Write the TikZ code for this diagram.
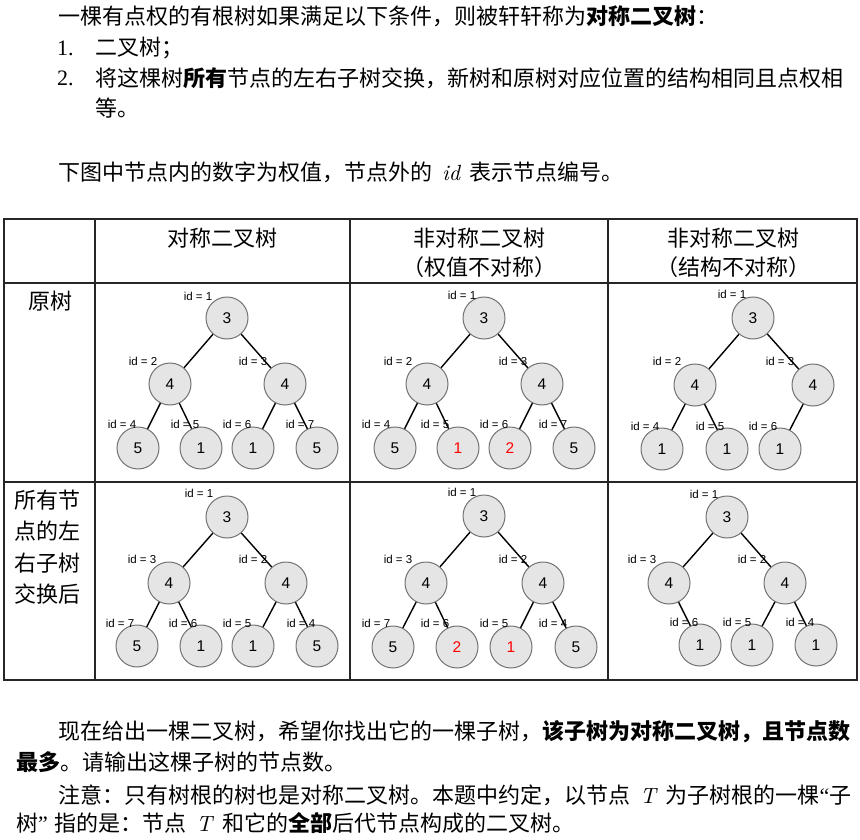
\documentclass[tikz,border=0pt]{standalone}
\usepackage{fontspec}
\setmainfont{Liberation Serif}
\newfontfamily\cjk{Noto Sans CJK SC}
\newfontfamily\hv{Liberation Sans}
\newfontfamily\lmit{lmroman10-italic}[Extension=.otf]
\begin{document}
\begin{tikzpicture}[x=1pt,y=-1pt,
  tn/.style={circle,draw=black!55,fill=black!10,line width=1pt,minimum size=42pt,inner sep=0pt,font=\hv\fontsize{15.5}{15.5}\selectfont},
  rd/.style={text=red},
  idl/.style={font=\hv\fontsize{11.5}{11.5}\selectfont,inner sep=0pt},
  tedge/.style={line width=1.4pt,black},
  txt/.style={anchor=west,inner sep=0pt,font=\cjk\fontsize{22}{22}\selectfont},
  lat/.style={anchor=west,inner sep=0pt,font=\fontsize{22}{22}\selectfont},
  hd/.style={inner sep=0pt,font=\cjk\fontsize{22}{22}\selectfont},
  grid/.style={line width=1.3pt,black!85}]
\useasboundingbox (0,0) rectangle (860,840);

% ---------- top text ----------
\node[txt] (t1) at (58,16) {一棵有点权的有根树如果满足以下条件，则被轩轩称为{\bfseries 对称二叉树}：};
\node[lat] (n1) at (57,48) {1.};
\node[txt] (t2) at (95,48) {二叉树；};
\node[lat] (n2) at (57,78) {2.};
\node[txt] (t3) at (95,78) {将这棵树{\bfseries 所有}节点的左右子树交换，新树和原树对应位置的结构相同且点权相};
\node[txt] (t4) at (95,108) {等。};
\node[txt] (t5) at (58,172) {下图中节点内的数字为权值，节点外的\hspace{0.45em}{\lmit id}\hspace{0.45em}表示节点编号。};

% ---------- table ----------
\draw[grid] (4,219) rectangle (857,680);
\draw[grid] (4,283) -- (857,283);
\draw[grid] (4,482) -- (857,482);
\draw[grid] (95,219) -- (95,680);
\draw[grid] (350,219) -- (350,680);
\draw[grid] (608,219) -- (608,680);

\node[hd] (h1) at (222,238) {对称二叉树};
\node[hd] (h2) at (479,238) {非对称二叉树};
\node[hd] (h2b) at (479,267) {（权值不对称）};
\node[hd] (h3) at (733,238) {非对称二叉树};
\node[hd] (h3b) at (733,267) {（结构不对称）};
\node[hd] (r1) at (50,301) {原树};
\node[hd] (r2a) at (48,500) {所有节};
\node[hd] (r2b) at (48,531) {点的左};
\node[hd] (r2c) at (48,563) {右子树};
\node[hd] (r2d) at (48,594) {交换后};

% ---------- tree a (row1 col1) ----------
\node[tn] (a1) at (227,318) {3};
\node[tn] (a2) at (170,384) {4};
\node[tn] (a3) at (285,384) {4};
\node[tn] (a4) at (138,448) {5};
\node[tn] (a5) at (201,448) {1};
\node[tn] (a6) at (253,448) {1};
\node[tn] (a7) at (317,448) {5};
\draw[tedge] (a1)--(a2) (a1)--(a3) (a2)--(a4) (a2)--(a5) (a3)--(a6) (a3)--(a7);
\node[idl] (la1) at (198,296) {id = 1};
\node[idl] (la2) at (143,361) {id = 2};
\node[idl] (la3) at (253,361) {id = 3};
\node[idl] (la4) at (122,424) {id = 4};
\node[idl] (la5) at (185,424) {id = 5};
\node[idl] (la6) at (237,424) {id = 6};
\node[idl] (la7) at (300,424) {id = 7};

% ---------- tree b (row1 col2) ----------
\node[tn] (b1) at (484,318) {3};
\node[tn] (b2) at (427,384) {4};
\node[tn] (b3) at (542,384) {4};
\node[tn] (b4) at (395,448) {5};
\node[tn,rd] (b5) at (458,448) {1};
\node[tn,rd] (b6) at (510,448) {2};
\node[tn] (b7) at (574,448) {5};
\draw[tedge] (b1)--(b2) (b1)--(b3) (b2)--(b4) (b2)--(b5) (b3)--(b6) (b3)--(b7);
\node[idl] (lb1) at (462,295) {id = 1};
\node[idl] (lb2) at (398,361) {id = 2};
\node[idl] (lb3) at (513,361) {id = 3};
\node[idl] (lb4) at (376,424) {id = 4};
\node[idl] (lb5) at (435,424) {id = 5};
\node[idl] (lb6) at (494,424) {id = 6};
\node[idl] (lb7) at (553,424) {id = 7};

% ---------- tree c (row1 col3) ----------
\node[tn] (c1) at (753,318) {3};
\node[tn] (c2) at (695,385) {4};
\node[tn] (c3) at (813,385) {4};
\node[tn] (c4) at (662,449) {1};
\node[tn] (c5) at (727,449) {1};
\node[tn] (c6) at (780,449) {1};
\draw[tedge] (c1)--(c2) (c1)--(c3) (c2)--(c4) (c2)--(c5) (c3)--(c6);
\node[idl] (lc1) at (732,294) {id = 1};
\node[idl] (lc2) at (667,361) {id = 2};
\node[idl] (lc3) at (780,361) {id = 3};
\node[idl] (lc4) at (645,426) {id = 4};
\node[idl] (lc5) at (710,426) {id = 5};
\node[idl] (lc6) at (763,426) {id = 6};

% ---------- tree d (row2 col1) ----------
\node[tn] (d1) at (227,517) {3};
\node[tn] (d3) at (169,583) {4};
\node[tn] (d2) at (286,583) {4};
\node[tn] (d7) at (137,646) {5};
\node[tn] (d6) at (201,646) {1};
\node[tn] (d5) at (253,646) {1};
\node[tn] (d4) at (317,646) {5};
\draw[tedge] (d1)--(d3) (d1)--(d2) (d3)--(d7) (d3)--(d6) (d2)--(d5) (d2)--(d4);
\node[idl] (ld1) at (199,493) {id = 1};
\node[idl] (ld3) at (142,559) {id = 3};
\node[idl] (ld2) at (253,559) {id = 2};
\node[idl] (ld7) at (120,623) {id = 7};
\node[idl] (ld6) at (183,623) {id = 6};
\node[idl] (ld5) at (237,623) {id = 5};
\node[idl] (ld4) at (301,623) {id = 4};

% ---------- tree e (row2 col2) ----------
\node[tn] (e1) at (484,516) {3};
\node[tn] (e3) at (426,583) {4};
\node[tn] (e2) at (543,583) {4};
\node[tn] (e7) at (393,647) {5};
\node[tn,rd] (e6) at (457,647) {2};
\node[tn,rd] (e5) at (511,647) {1};
\node[tn] (e4) at (576,647) {5};
\draw[tedge] (e1)--(e3) (e1)--(e2) (e3)--(e7) (e3)--(e6) (e2)--(e5) (e2)--(e4);
\node[idl] (le1) at (462,492) {id = 1};
\node[idl] (le3) at (398,559) {id = 3};
\node[idl] (le2) at (513,559) {id = 2};
\node[idl] (le7) at (376,623) {id = 7};
\node[idl] (le6) at (435,623) {id = 6};
\node[idl] (le5) at (494,623) {id = 5};
\node[idl] (le4) at (553,623) {id = 4};

% ---------- tree f (row2 col3) ----------
\node[tn] (f1) at (727,517) {3};
\node[tn] (f3) at (669,583) {4};
\node[tn] (f2) at (785,583) {4};
\node[tn] (f6) at (700,645) {1};
\node[tn] (f5) at (752,645) {1};
\node[tn] (f4) at (816,645) {1};
\draw[tedge] (f1)--(f3) (f1)--(f2) (f3)--(f6) (f2)--(f5) (f2)--(f4);
\node[idl] (lf1) at (704,494) {id = 1};
\node[idl] (lf3) at (642,559) {id = 3};
\node[idl] (lf2) at (752,559) {id = 2};
\node[idl] (lf6) at (684,622) {id = 6};
\node[idl] (lf5) at (737,622) {id = 5};
\node[idl] (lf4) at (800,622) {id = 4};

% ---------- bottom text ----------
\node[txt] (u1) at (58,732) {现在给出一棵二叉树，希望你找出它的一棵子树，{\bfseries 该子树为对称二叉树，且节点数}};
\node[txt] (u2) at (16,762) {{\bfseries 最多}。请输出这棵子树的节点数。};
\node[txt] (u3) at (58,795) {注意：只有树根的树也是对称二叉树。本题中约定，以节点\hspace{0.45em}{\lmit T}\hspace{0.45em}为子树根的一棵{\rmfamily “}子};
\node[txt] (u4) at (16,823) {树{\rmfamily ”}\hspace{0.3em}指的是：节点\hspace{0.45em}{\lmit T}\hspace{0.45em}和它的{\bfseries 全部}后代节点构成的二叉树。};
\end{tikzpicture}
\end{document}
